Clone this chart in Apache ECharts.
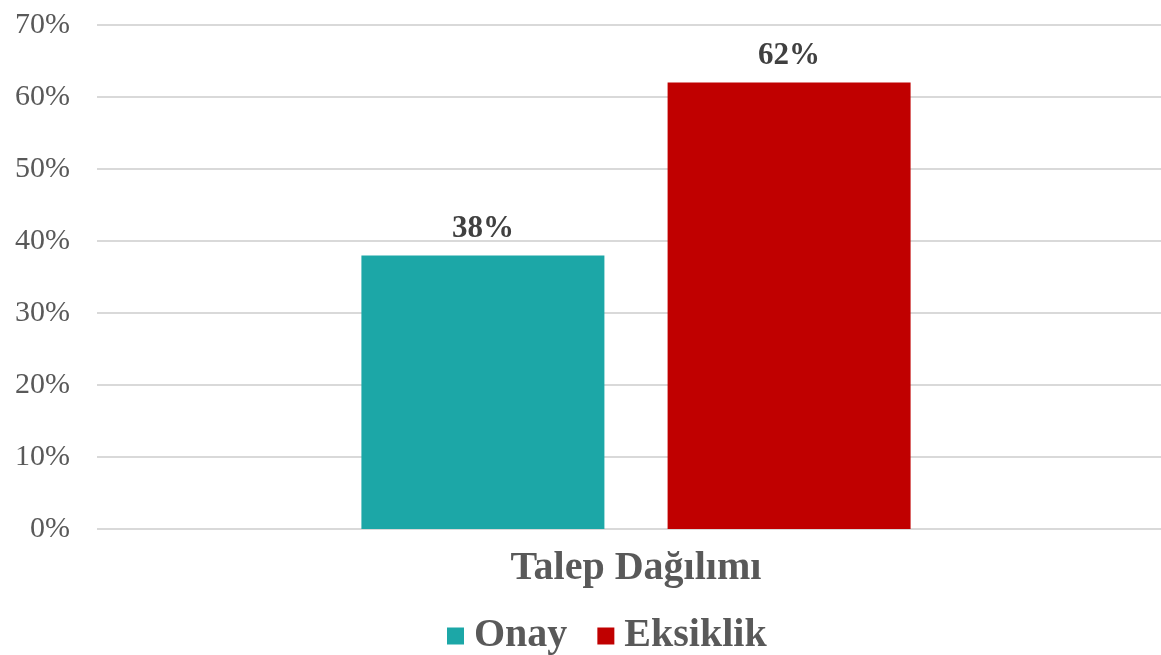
<!DOCTYPE html>
<html>
<head>
<meta charset="utf-8">
<script src="https://cdn.jsdelivr.net/npm/echarts@6/dist/echarts.min.js"></script>
<style>
  html, body { margin: 0; padding: 0; background: #fff; }
  #chart { width: 1161px; height: 655px; }
</style>
</head>
<body>
<div id="chart"></div>
<script>
// Veriler
const categories = ['Talep Dağılımı'];
const seriesNames = ['Onay', 'Eksiklik'];
const onayValues = [38];
const eksiklikValues = [62];
const colors = ['#1ca7a7', '#c00000'];

const chart = echarts.init(document.getElementById('chart'));
const serif = '"Liberation Serif", "DejaVu Serif", serif';

const labelStyle = {
    show: true,
    position: 'top',
    distance: 11,
    formatter: p => p.value + '%',
    fontFamily: serif,
    fontWeight: 'bold',
    fontSize: 31,
    color: '#404040'
};

chart.setOption({
    animation: false,
    textStyle: { fontFamily: serif },
    grid: { left: 97, width: 1078, top: 25, bottom: 126, outerBoundsMode: 'none' },
    legend: {
        left: 442,
        top: 611,
        itemWidth: 17,
        itemHeight: 17,
        itemGap: 30,
        icon: 'rect',
        textStyle: { fontFamily: serif, fontWeight: 'bold', fontSize: 40, color: '#595959', padding: [0, 0, 0, 5] },
        data: seriesNames
    },
    xAxis: {
        type: 'category',
        data: categories,
        axisLine: { show: false },
        axisTick: { show: false },
        axisLabel: { fontFamily: serif, fontWeight: 'bold', fontSize: 40, color: '#595959', margin: 20 }
    },
    yAxis: {
        type: 'value',
        min: 0,
        max: 70,
        interval: 10,
        axisLabel: { formatter: '{value}%', fontFamily: serif, fontSize: 30, color: '#595959', margin: 27, padding: [0, 0, 6, 0] },
        splitLine: { lineStyle: { color: '#d9d9d9', width: 2 } }
    },
    series: [
        { name: seriesNames[0], type: 'bar', data: onayValues, barWidth: 243, barGap: '26%', itemStyle: { color: colors[0] }, label: labelStyle },
        { name: seriesNames[1], type: 'bar', data: eksiklikValues, barWidth: 243, itemStyle: { color: colors[1] }, label: labelStyle }
    ]
});
</script>
</body>
</html>
